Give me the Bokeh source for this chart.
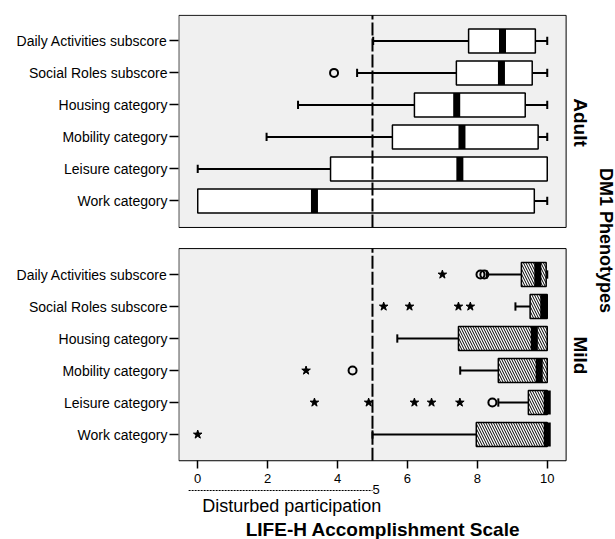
from bokeh.plotting import figure
from bokeh.models import ColumnDataSource, Range1d, FixedTicker, Label, Arrow
from bokeh.embed import file_html
from bokeh.resources import INLINE

# ---------------- data ----------------
categories = ["Daily Activities subscore", "Social Roles subscore", "Housing category",
              "Mobility category", "Leisure category", "Work category"]

# Adult phenotype
adult_low = [5.02, 4.56, 2.87, 1.97, 0.0, 0.0]
adult_q1 = [7.75, 7.40, 6.20, 5.57, 3.80, 0.0]
adult_med = [8.72, 8.69, 7.41, 7.56, 7.50, 3.34]
adult_q3 = [9.66, 9.57, 9.37, 9.74, 10.0, 9.63]
adult_high = [10.0, 10.0, 10.0, 10.0, 10.0, 10.0]
adult_circle_cat = ["Social Roles subscore"]
adult_circle_val = [3.9]

# Mild phenotype
mild_low = [8.27, 9.09, 5.71, 7.51, 8.60, 5.0]
mild_q1 = [9.26, 9.51, 7.46, 8.60, 9.46, 7.97]
mild_med = [9.73, 9.90, 9.63, 9.77, 10.0, 10.0]
mild_q3 = [9.97, 10.0, 10.0, 10.0, 10.0, 10.0]
mild_high = [10.0, 10.0, 10.0, 10.0, 10.0, 10.0]
mild_circle_cat = ["Daily Activities subscore", "Daily Activities subscore",
                   "Mobility category", "Leisure category"]
mild_circle_val = [8.09, 8.20, 4.43, 8.43]
mild_star_cat = ["Daily Activities subscore",
                 "Social Roles subscore", "Social Roles subscore", "Social Roles subscore", "Social Roles subscore",
                 "Mobility category",
                 "Leisure category", "Leisure category", "Leisure category", "Leisure category", "Leisure category",
                 "Work category"]
mild_star_val = [7.0,
                 5.32, 6.06, 7.46, 7.80,
                 3.10,
                 3.34, 4.89, 6.20, 6.69, 7.50,
                 0.0]

x_ticks = [0, 2, 4, 6, 8, 10]
threshold = 5
threshold_label = "Disturbed participation"
x_title = "LIFE-H Accomplishment Scale"
panel_titles = ["Adult", "Mild"]
group_title = "DM1 Phenotypes"

# ---------------- layout ----------------
FONT = "Liberation Sans"
bottom_pos = {c: 6 - i for i, c in enumerate(categories)}
top_pos = {c: round(13.3 - i, 2) for i, c in enumerate(categories)}
BOX_H = 0.75
CAP_H = 0.13

p = figure(width=615, height=539,
           x_range=Range1d(-0.55, 11.953), y_range=Range1d(-2.281, 14.125),
           output_backend="svg", toolbar_location=None,
           min_border_left=178, min_border_right=0, min_border_top=14, min_border_bottom=0)
p.outline_line_color = None
p.grid.visible = False
p.background_fill_color = "white"
p.border_fill_color = "white"

panels = [(7.47, 14.1), (0.18, 6.81)]
for b, t in panels:
    p.quad(left=-0.54, right=10.54, bottom=b, top=t, fill_color="#F0F0F0",
           line_color="black", line_width=1)


def draw_group(pos, low, q1, med, q3, high, hatch):
    ys = [pos[c] for c in categories]
    src = ColumnDataSource(dict(y=ys, low=low, q1=q1, med=med, q3=q3, high=high,
                                b=[y - BOX_H / 2 for y in ys], t=[y + BOX_H / 2 for y in ys]))
    p.segment(x0="low", y0="y", x1="q1", y1="y", source=src, line_color="black", line_width=2)
    p.segment(x0="q3", y0="y", x1="high", y1="y", source=src, line_color="black", line_width=2)
    cx, cy = [], []
    for y, lo, a, bq, hi in zip(ys, low, q1, q3, high):
        if lo < a:
            cx.append(lo); cy.append(y)
        if hi > bq:
            cx.append(hi); cy.append(y)
    p.segment(x0=cx, y0=[y - CAP_H for y in cy], x1=cx, y1=[y + CAP_H for y in cy],
              line_color="black", line_width=2)
    kw = dict(fill_color="white", line_color="black", line_width=1.5)
    if hatch:
        kw.update(hatch_pattern="left_diagonal_line", hatch_color="black",
                  hatch_scale=5, hatch_weight=1)
    p.quad(left="q1", right="q3", bottom="b", top="t", source=src, **kw)
    p.rect(x="med", y="y", width=7, width_units="screen", height=BOX_H, source=src,
           fill_color="black", line_color=None)


draw_group(top_pos, adult_low, adult_q1, adult_med, adult_q3, adult_high, False)
draw_group(bottom_pos, mild_low, mild_q1, mild_med, mild_q3, mild_high, True)

# reference line
for b, t in panels:
    p.segment(x0=threshold, y0=b, x1=threshold, y1=t, line_color="black",
              line_width=2, line_dash="13 3")

# outliers
p.scatter(x=adult_circle_val, y=[top_pos[c] for c in adult_circle_cat], marker="circle",
          size=8, fill_color=None, line_color="black", line_width=2)
p.scatter(x=mild_circle_val, y=[bottom_pos[c] for c in mild_circle_cat], marker="circle",
          size=8, fill_color=None, line_color="black", line_width=2)
p.scatter(x=mild_star_val, y=[bottom_pos[c] for c in mild_star_cat], marker="star",
          size=9, fill_color="black", line_color="black", line_width=1)

# axes
p.xaxis.fixed_location = panels[1][0]
p.xaxis.ticker = FixedTicker(ticks=x_ticks)
p.xaxis.minor_tick_line_color = None
p.xaxis.axis_line_color = None
p.xaxis.major_tick_out = 8
p.xaxis.major_tick_in = 0
p.xaxis.major_tick_line_width = 1.5
p.xaxis.major_label_text_font = FONT
p.xaxis.major_label_text_font_size = "13px"
p.xaxis.major_label_text_color = "black"

yt = [top_pos[c] for c in categories] + [bottom_pos[c] for c in categories]
p.yaxis.ticker = FixedTicker(ticks=yt)
overrides = {}
for c in categories:
    overrides[top_pos[c]] = c
    overrides[bottom_pos[c]] = c
p.yaxis.major_label_overrides = overrides
p.yaxis.minor_tick_line_color = None
p.yaxis.axis_line_color = None
p.yaxis.major_tick_out = 9
p.yaxis.major_tick_in = 0
p.yaxis.major_tick_line_width = 1.5
p.yaxis.major_label_standoff = 2
p.yaxis.major_label_text_font = FONT
p.yaxis.major_label_text_font_size = "14px"
p.yaxis.major_label_text_color = "black"

# annotations
p.add_layout(Arrow(x_start=-0.26, y_start=-0.75, x_end=threshold, y_end=-0.75,
                   start=None, end=None, line_color="black", line_width=1, line_dash="2 1"))
p.add_layout(Label(x=threshold, y=-0.72, text=str(threshold), text_font=FONT, text_color="black",
                   text_font_size="13px", text_align="left", text_baseline="middle"))
p.add_layout(Label(x=2.69, y=-1.24, text=threshold_label, text_font=FONT, text_color="black",
                   text_font_size="18px", text_align="center", text_baseline="middle"))
p.add_layout(Label(x=5.3, y=-1.97, text=x_title, text_font=FONT, text_font_style="bold",
                   text_color="black", text_font_size="19px", text_align="center",
                   text_baseline="middle"))
p.add_layout(Label(x=10.95, y=10.75, text=panel_titles[0], text_font=FONT, text_color="black",
                   text_font_style="bold", text_font_size="19px", angle=-1.5708,
                   text_align="center", text_baseline="middle"))
p.add_layout(Label(x=10.95, y=3.47, text=panel_titles[1], text_font=FONT, text_color="black",
                   text_font_style="bold", text_font_size="19px", angle=-1.5708,
                   text_align="center", text_baseline="middle"))
p.add_layout(Label(x=11.67, y=7.06, text=group_title, text_font=FONT, text_color="black",
                   text_font_style="bold", text_font_size="18px", angle=-1.5708,
                   text_align="center", text_baseline="middle"))

open("out.html", "w").write(file_html(p, INLINE))
